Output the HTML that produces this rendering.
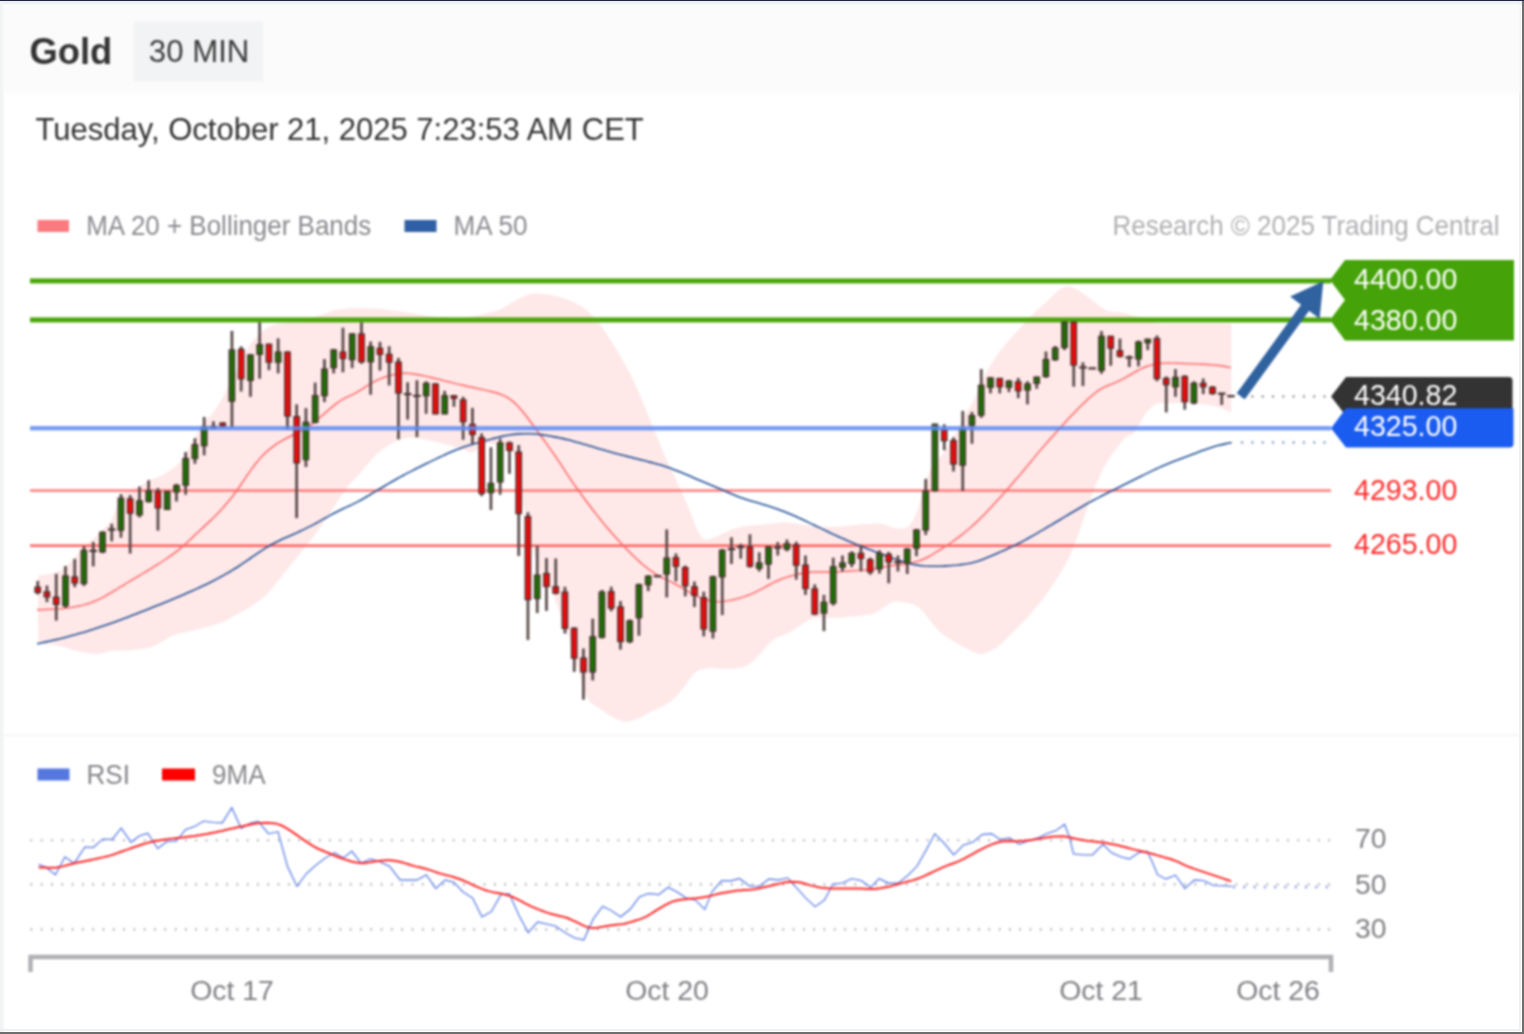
<!DOCTYPE html>
<html><head><meta charset="utf-8"><title>Gold 30 MIN</title>
<style>
html,body{margin:0;padding:0;background:#fff;}
body{width:1524px;height:1034px;position:relative;overflow:hidden;font-family:"Liberation Sans",sans-serif;}
.b{position:absolute;}
</style></head><body>
<div class="b" style="left:0;top:0;width:1524px;height:1px;background:#23243f"></div>
<div class="b" style="left:0;top:1px;width:1524px;height:1.5px;background:#e9eef8"></div>
<div class="b" style="left:0;top:2.5px;width:1524px;height:2px;background:#eef0f2"></div>
<div class="b" style="left:0;top:1px;width:2px;height:1033px;background:#f2f3f3"></div>
<div class="b" style="left:2px;top:3px;width:2px;height:1031px;background:#f4f6f8"></div>
<div class="b" style="left:1519px;top:3px;width:2px;height:1028px;background:#eef1f4"></div>
<div class="b" style="left:0;top:1029px;width:1521px;height:2px;background:#eef1f4"></div>
<div class="b" style="left:1522px;top:1px;width:2px;height:1033px;background:#6e6e6e"></div>
<div class="b" style="left:0;top:1032px;width:1524px;height:2px;background:#6e6e6e"></div>
<svg width="1524" height="1034" viewBox="0 0 1524 1034" style="position:absolute;left:0;top:0;filter:blur(0.85px);font-family:'Liberation Sans',sans-serif"><rect x="4" y="4" width="1516" height="89.5" fill="#fbfbfc"/><rect x="134" y="21.5" width="129" height="60" fill="#f2f3f5"/><text x="29.4" y="64.3" font-size="36.4" font-weight="bold" fill="#333">Gold</text><text x="148.8" y="61.8" font-size="31.2" fill="#3a3a3a">30 MIN</text><text x="35.5" y="139.8" font-size="32" textLength="608.3" lengthAdjust="spacingAndGlyphs" fill="#333">Tuesday, October 21, 2025 7:23:53 AM CET</text><rect x="37.5" y="220" width="31.5" height="12" fill="#fb7a80"/><text x="86.2" y="235" font-size="28" textLength="285" lengthAdjust="spacingAndGlyphs" fill="#8a8a8f">MA 20 + Bollinger Bands</text><rect x="404.5" y="220" width="32" height="12" fill="#2f5fa5"/><text x="453.5" y="235" font-size="28" textLength="74" lengthAdjust="spacingAndGlyphs" fill="#8a8a8f">MA 50</text><text x="1112.5" y="235" font-size="28" fill="#b0b0b3" textLength="387" lengthAdjust="spacingAndGlyphs">Research © 2025 Trading Central</text><polygon points="37.8,575.7 40.8,575.2 43.8,574.7 46.8,574.2 49.8,573.7 52.8,573.2 55.8,572.4 58.8,571.3 61.8,569.7 64.8,567.5 67.8,564.8 70.8,561.7 73.8,558.4 76.8,554.8 79.8,551.0 82.8,547.6 85.8,544.8 88.8,542.4 91.8,540.1 94.8,537.4 97.8,534.4 100.8,531.3 103.8,528.6 106.8,526.0 109.8,522.7 112.8,517.4 115.8,509.7 118.8,501.5 121.8,495.4 124.8,492.1 127.8,490.5 130.8,489.4 133.8,488.4 136.8,487.3 139.8,485.9 142.8,484.1 145.8,482.2 148.8,480.5 151.8,479.3 154.8,478.3 157.8,477.2 160.8,475.8 163.8,474.3 166.8,472.5 169.8,470.6 172.8,468.6 175.8,466.3 178.8,463.3 181.8,459.4 184.8,455.0 187.8,450.1 190.8,445.0 193.8,439.6 196.8,434.1 199.8,428.5 202.8,423.7 205.8,420.1 208.8,417.2 211.8,414.0 214.8,410.2 217.8,405.9 220.8,401.1 223.8,395.7 226.8,389.8 229.8,383.9 232.8,377.9 235.8,371.9 238.8,365.9 241.8,359.9 244.8,354.0 247.8,348.5 250.8,343.8 253.8,340.0 256.8,336.8 259.8,333.8 262.8,331.0 265.8,328.5 268.8,326.8 271.8,325.7 274.8,324.8 277.8,324.1 280.8,323.4 283.8,322.9 286.8,322.7 289.8,322.6 292.8,322.6 295.8,322.6 298.8,322.4 301.8,321.9 304.8,321.0 307.8,320.0 310.8,318.9 313.8,317.7 316.8,316.6 319.8,315.5 322.8,314.4 325.8,313.2 328.8,312.1 331.8,311.1 334.8,310.2 337.8,309.7 340.8,309.3 343.8,309.1 346.8,308.8 349.8,308.6 352.8,308.3 355.8,308.1 358.8,307.9 361.8,307.9 364.8,308.0 367.8,308.2 370.8,308.4 373.8,308.5 376.8,308.7 379.8,309.0 382.8,309.3 385.8,309.7 388.8,310.1 391.8,310.4 394.8,310.8 397.8,311.2 400.8,311.6 403.8,312.0 406.8,312.4 409.8,312.8 412.8,313.3 415.8,313.8 418.8,314.3 421.8,314.8 424.8,315.3 427.8,315.8 430.8,316.2 433.8,316.6 436.8,317.0 439.8,317.2 442.8,317.5 445.8,317.7 448.8,318.0 451.8,318.2 454.8,318.4 457.8,318.6 460.8,318.5 463.8,318.1 466.8,317.6 469.8,317.0 472.8,316.4 475.8,315.8 478.8,315.2 481.8,314.5 484.8,313.8 487.8,313.1 490.8,312.3 493.8,311.6 496.8,310.7 499.8,309.6 502.8,308.2 505.8,306.4 508.8,304.6 511.8,302.7 514.8,300.9 517.8,299.2 520.8,297.7 523.8,296.4 526.8,295.1 529.8,294.2 532.8,293.6 535.8,293.5 538.8,293.7 541.8,293.9 544.8,294.2 547.8,294.5 550.8,295.0 553.8,295.7 556.8,296.4 559.8,297.2 562.8,297.9 565.8,298.9 568.8,300.0 571.8,301.4 574.8,302.9 577.8,304.4 580.8,306.0 583.8,307.9 586.8,310.2 589.8,313.0 592.8,316.0 595.8,319.3 598.8,322.9 601.8,327.0 604.8,331.4 607.8,335.9 610.8,340.5 613.8,345.3 616.8,350.2 619.8,355.3 622.8,360.4 625.8,365.9 628.8,371.6 631.8,377.6 634.8,383.7 637.8,390.1 640.8,397.1 643.8,404.4 646.8,411.9 649.8,419.4 652.8,426.8 655.8,434.2 658.8,441.5 661.8,448.7 664.8,455.8 667.8,462.5 670.8,468.8 673.8,475.0 676.8,481.2 679.8,487.6 682.8,494.3 685.8,501.2 688.8,508.5 691.8,516.3 694.8,524.1 697.8,531.0 700.8,536.2 703.8,539.1 706.8,539.8 709.8,539.1 712.8,538.1 715.8,536.9 718.8,535.6 721.8,534.2 724.8,532.8 727.8,531.4 730.8,530.1 733.8,529.0 736.8,528.0 739.8,527.1 742.8,526.4 745.8,525.9 748.8,525.6 751.8,525.4 754.8,525.2 757.8,525.0 760.8,524.8 763.8,524.6 766.8,524.3 769.8,524.0 772.8,523.6 775.8,523.2 778.8,522.9 781.8,522.6 784.8,522.4 787.8,522.5 790.8,522.9 793.8,523.3 796.8,523.8 799.8,524.3 802.8,524.8 805.8,525.3 808.8,525.7 811.8,526.0 814.8,526.2 817.8,526.3 820.8,526.5 823.8,526.6 826.8,526.8 829.8,526.9 832.8,527.0 835.8,527.0 838.8,526.8 841.8,526.4 844.8,526.1 847.8,525.7 850.8,525.3 853.8,525.0 856.8,524.7 859.8,524.4 862.8,524.3 865.8,524.1 868.8,523.9 871.8,523.8 874.8,523.6 877.8,523.6 880.8,523.9 883.8,524.6 886.8,525.5 889.8,526.5 892.8,527.4 895.8,528.1 898.8,528.5 901.8,528.5 904.8,528.2 907.8,527.0 910.8,524.1 913.8,519.0 916.8,511.9 919.8,502.4 922.8,491.2 925.8,480.6 928.8,472.4 931.8,466.8 934.8,463.0 937.8,460.0 940.8,456.6 943.8,452.5 946.8,447.9 949.8,443.1 952.8,438.1 955.8,432.7 958.8,426.7 961.8,420.6 964.8,415.0 967.8,410.1 970.8,405.5 973.8,400.2 976.8,393.9 979.8,387.1 982.8,380.3 985.8,374.0 988.8,368.3 991.8,363.2 994.8,358.5 997.8,354.3 1000.8,350.3 1003.8,346.5 1006.8,342.8 1009.8,339.3 1012.8,335.9 1015.8,332.5 1018.8,329.2 1021.8,325.9 1024.8,322.7 1027.8,319.5 1030.8,316.3 1033.8,313.2 1036.8,310.4 1039.8,307.7 1042.8,305.1 1045.8,302.4 1048.8,299.5 1051.8,296.6 1054.8,293.7 1057.8,291.0 1060.8,288.7 1063.8,287.2 1066.8,286.6 1069.8,286.7 1072.8,287.6 1075.8,289.0 1078.8,290.7 1081.8,292.6 1084.8,294.7 1087.8,296.9 1090.8,299.2 1093.8,301.7 1096.8,304.0 1099.8,306.2 1102.8,308.2 1105.8,310.0 1108.8,311.2 1111.8,311.8 1114.8,312.0 1117.8,312.2 1120.8,312.5 1123.8,313.0 1126.8,313.7 1129.8,314.5 1132.8,315.4 1135.8,316.4 1138.8,317.5 1141.8,318.7 1144.8,319.8 1147.8,320.7 1150.8,321.5 1153.8,322.2 1156.8,322.9 1159.8,323.4 1162.8,323.6 1165.8,323.7 1168.8,323.7 1171.8,323.7 1174.8,323.7 1177.8,323.7 1180.8,323.7 1183.8,323.7 1186.8,323.7 1189.8,323.7 1192.8,323.7 1195.8,323.7 1198.8,323.7 1201.8,323.7 1204.8,323.7 1207.8,323.7 1210.8,323.7 1213.8,323.7 1216.8,323.7 1219.8,323.7 1222.8,323.7 1225.8,323.7 1228.8,323.7 1231.3,323.7 1231.3,412.4 1229.2,411.4 1226.2,410.2 1223.2,409.1 1220.2,407.9 1217.2,407.0 1214.2,406.2 1211.2,405.6 1208.2,405.0 1205.2,404.5 1202.2,404.1 1199.2,403.7 1196.2,403.4 1193.2,403.2 1190.2,403.0 1187.2,402.9 1184.2,402.9 1181.2,402.9 1178.2,402.9 1175.2,402.9 1172.2,402.9 1169.2,402.9 1166.2,402.9 1163.2,402.9 1160.2,403.1 1157.2,403.8 1154.2,405.2 1151.2,407.4 1148.2,410.3 1145.2,414.1 1142.2,418.7 1139.2,424.2 1136.2,429.8 1133.2,433.5 1130.2,434.9 1127.2,436.2 1124.2,438.9 1121.2,442.4 1118.2,446.1 1115.2,450.0 1112.2,454.1 1109.2,458.4 1106.2,463.3 1103.2,468.8 1100.2,475.0 1097.2,481.8 1094.2,489.1 1091.2,497.0 1088.2,505.4 1085.2,514.2 1082.2,523.2 1079.2,532.1 1076.2,540.5 1073.2,548.0 1070.2,554.7 1067.2,560.7 1064.2,566.5 1061.2,571.8 1058.2,576.6 1055.2,581.2 1052.2,585.8 1049.2,590.2 1046.2,594.5 1043.2,598.5 1040.2,602.3 1037.2,606.0 1034.2,609.7 1031.2,613.3 1028.2,616.6 1025.2,619.8 1022.2,622.8 1019.2,625.8 1016.2,628.8 1013.2,631.8 1010.2,634.8 1007.2,637.8 1004.2,640.8 1001.2,643.7 998.2,646.3 995.2,648.4 992.2,650.1 989.2,651.7 986.2,653.1 983.2,654.1 980.2,654.2 977.2,653.5 974.2,652.2 971.2,650.7 968.2,649.2 965.2,647.7 962.2,646.2 959.2,644.5 956.2,642.8 953.2,641.0 950.2,639.2 947.2,637.3 944.2,635.4 941.2,633.1 938.2,630.3 935.2,627.0 932.2,623.5 929.2,619.6 926.2,615.4 923.2,611.4 920.2,608.4 917.2,606.3 914.2,604.8 911.2,603.7 908.2,603.0 905.2,602.5 902.2,602.0 899.2,601.6 896.2,601.4 893.2,601.8 890.2,603.1 887.2,604.9 884.2,607.0 881.2,609.2 878.2,611.3 875.2,613.0 872.2,614.1 869.2,614.7 866.2,615.1 863.2,615.6 860.2,616.0 857.2,616.3 854.2,616.6 851.2,616.8 848.2,617.0 845.2,617.2 842.2,617.4 839.2,617.6 836.2,617.7 833.2,617.8 830.2,617.8 827.2,617.8 824.2,617.8 821.2,617.8 818.2,617.8 815.2,618.0 812.2,618.6 809.2,619.8 806.2,621.5 803.2,623.4 800.2,625.3 797.2,627.4 794.2,629.4 791.2,631.4 788.2,633.0 785.2,634.3 782.2,635.4 779.2,636.4 776.2,637.9 773.2,640.0 770.2,642.6 767.2,645.6 764.2,648.9 761.2,652.4 758.2,656.0 755.2,659.2 752.2,662.0 749.2,664.1 746.2,665.9 743.2,667.1 740.2,667.8 737.2,668.2 734.2,668.5 731.2,668.7 728.2,668.8 725.2,668.8 722.2,668.6 719.2,668.5 716.2,668.3 713.2,668.1 710.2,668.0 707.2,668.2 704.2,668.7 701.2,669.5 698.2,670.6 695.2,672.4 692.2,675.4 689.2,679.5 686.2,683.9 683.2,688.0 680.2,691.8 677.2,695.3 674.2,698.3 671.2,700.9 668.2,703.2 665.2,705.1 662.2,706.7 659.2,708.0 656.2,709.3 653.2,710.6 650.2,712.1 647.2,713.8 644.2,715.5 641.2,717.2 638.2,718.6 635.2,719.8 632.2,720.7 629.2,721.5 626.2,721.8 623.2,721.5 620.2,720.5 617.2,719.3 614.2,718.0 611.2,716.3 608.2,714.4 605.2,712.4 602.2,710.3 599.2,708.3 596.2,706.4 593.2,704.5 590.2,701.9 587.2,697.3 584.2,689.6 581.2,680.0 578.2,670.0 575.2,659.9 572.2,649.2 569.2,638.6 566.2,629.4 563.2,621.6 560.2,614.1 557.2,605.8 554.2,597.2 551.2,589.8 548.2,584.5 545.2,580.5 542.2,576.2 539.2,570.3 536.2,561.8 533.2,550.4 530.2,536.6 527.2,522.9 524.2,509.4 521.2,492.7 518.2,473.8 515.2,459.0 512.2,451.0 509.2,447.5 506.2,446.2 503.2,445.6 500.2,445.1 497.2,444.7 494.2,444.4 491.2,444.1 488.2,443.8 485.2,443.8 482.2,444.7 479.2,447.1 476.2,450.1 473.2,452.1 470.2,452.2 467.2,451.2 464.2,449.8 461.2,448.6 458.2,447.6 455.2,446.8 452.2,446.0 449.2,445.3 446.2,444.5 443.2,443.8 440.2,443.0 437.2,442.3 434.2,441.6 431.2,440.9 428.2,440.2 425.2,439.5 422.2,438.9 419.2,438.4 416.2,438.0 413.2,437.6 410.2,437.5 407.2,437.8 404.2,438.4 401.2,439.1 398.2,440.1 395.2,441.5 392.2,443.2 389.2,445.0 386.2,446.9 383.2,448.9 380.2,451.2 377.2,453.8 374.2,456.8 371.2,459.9 368.2,463.2 365.2,466.8 362.2,470.6 359.2,474.4 356.2,477.6 353.2,480.5 350.2,483.5 347.2,487.3 344.2,491.6 341.2,496.1 338.2,500.6 335.2,505.1 332.2,509.6 329.2,514.1 326.2,518.6 323.2,523.1 320.2,527.5 317.2,531.7 314.2,535.6 311.2,539.4 308.2,543.2 305.2,546.9 302.2,550.7 299.2,554.4 296.2,558.2 293.2,561.9 290.2,565.6 287.2,569.4 284.2,573.1 281.2,576.9 278.2,580.6 275.2,584.4 272.2,588.1 269.2,591.6 266.2,594.8 263.2,597.5 260.2,599.9 257.2,602.1 254.2,604.3 251.2,606.4 248.2,608.3 245.2,610.0 242.2,611.5 239.2,613.0 236.2,614.6 233.2,616.2 230.2,618.1 227.2,619.9 224.2,621.5 221.2,622.7 218.2,623.6 215.2,624.5 212.2,625.4 209.2,626.2 206.2,627.1 203.2,627.9 200.2,628.8 197.2,629.6 194.2,630.3 191.2,631.0 188.2,631.6 185.2,632.2 182.2,632.8 179.2,633.5 176.2,634.3 173.2,635.3 170.2,636.8 167.2,638.5 164.2,640.3 161.2,642.1 158.2,643.9 155.2,645.5 152.2,646.8 149.2,647.6 146.2,648.2 143.2,648.6 140.2,649.1 137.2,649.5 134.2,649.9 131.2,650.2 128.2,650.4 125.2,650.4 122.2,650.4 119.2,650.4 116.2,650.4 113.2,650.5 110.2,650.9 107.2,651.7 104.2,652.7 101.2,653.6 98.2,654.0 95.2,653.9 92.2,653.6 89.2,653.2 86.2,652.7 83.2,652.2 80.2,651.7 77.2,651.1 74.2,650.3 71.2,649.4 68.2,648.5 65.2,647.6 62.2,646.7 59.2,645.9 56.2,645.3 53.2,644.8 50.2,644.5 47.2,644.2 44.2,643.9 41.2,643.7 38.2,643.4" fill="#fee8e8"/><rect x="30" y="489.4" width="1301" height="2.3" fill="#ff7272"/><rect x="30" y="544.5" width="1301" height="2.3" fill="#ff5656"/><polyline points="37.0,609.8 40.0,609.7 43.0,609.6 46.0,609.5 49.0,609.4 52.0,609.2 55.0,609.1 58.0,608.9 61.0,608.7 64.0,608.4 67.0,608.0 70.0,607.6 73.0,607.2 76.0,606.6 79.0,606.0 82.0,605.4 85.0,604.6 88.0,603.7 91.0,602.6 94.0,601.5 97.0,600.2 100.0,598.8 103.0,597.3 106.0,595.7 109.0,593.9 112.0,592.2 115.0,590.3 118.0,588.5 121.0,586.7 124.0,584.8 127.0,583.0 130.0,581.2 133.0,579.4 136.0,577.6 139.0,575.8 142.0,574.0 145.0,572.2 148.0,570.4 151.0,568.6 154.0,566.7 157.0,564.9 160.0,563.0 163.0,561.0 166.0,559.0 169.0,556.9 172.0,554.8 175.0,552.6 178.0,550.3 181.0,547.9 184.0,545.3 187.0,542.5 190.0,539.7 193.0,536.9 196.0,534.0 199.0,531.2 202.0,528.4 205.0,525.6 208.0,522.9 211.0,520.1 214.0,517.2 217.0,514.2 220.0,511.0 223.0,507.8 226.0,504.3 229.0,500.8 232.0,497.0 235.0,493.0 238.0,488.8 241.0,484.5 244.0,480.1 247.0,475.7 250.0,471.4 253.0,467.2 256.0,463.3 259.0,459.6 262.0,456.3 265.0,453.3 268.0,450.6 271.0,448.1 274.0,445.8 277.0,443.7 280.0,441.9 283.0,440.1 286.0,438.5 289.0,437.0 292.0,435.5 295.0,433.9 298.0,432.4 301.0,430.8 304.0,429.1 307.0,427.3 310.0,425.3 313.0,423.1 316.0,420.8 319.0,418.3 322.0,415.7 325.0,413.1 328.0,410.5 331.0,407.9 334.0,405.4 337.0,403.1 340.0,401.0 343.0,399.1 346.0,397.6 349.0,396.2 352.0,394.9 355.0,393.4 358.0,391.7 361.0,389.9 364.0,387.9 367.0,385.9 370.0,384.0 373.0,382.3 376.0,380.7 379.0,379.3 382.0,378.1 385.0,377.0 388.0,376.1 391.0,375.3 394.0,374.6 397.0,374.0 400.0,373.5 403.0,373.3 406.0,373.3 409.0,373.4 412.0,373.8 415.0,374.2 418.0,374.7 421.0,375.3 424.0,375.9 427.0,376.6 430.0,377.3 433.0,378.0 436.0,378.7 439.0,379.4 442.0,380.2 445.0,380.9 448.0,381.7 451.0,382.4 454.0,383.1 457.0,383.9 460.0,384.6 463.0,385.3 466.0,386.0 469.0,386.7 472.0,387.3 475.0,388.0 478.0,388.6 481.0,389.3 484.0,389.9 487.0,390.6 490.0,391.3 493.0,392.0 496.0,392.8 499.0,393.8 502.0,394.9 505.0,396.2 508.0,397.9 511.0,399.9 514.0,402.4 517.0,405.2 520.0,408.5 523.0,412.0 526.0,415.8 529.0,419.7 532.0,423.8 535.0,427.9 538.0,432.1 541.0,436.2 544.0,440.3 547.0,444.4 550.0,448.6 553.0,452.8 556.0,457.1 559.0,461.6 562.0,466.2 565.0,470.9 568.0,475.4 571.0,479.9 574.0,484.3 577.0,488.5 580.0,492.6 583.0,496.7 586.0,500.7 589.0,504.7 592.0,508.7 595.0,512.6 598.0,516.4 601.0,520.2 604.0,523.9 607.0,527.5 610.0,531.0 613.0,534.4 616.0,537.8 619.0,541.1 622.0,544.3 625.0,547.5 628.0,550.5 631.0,553.5 634.0,556.5 637.0,559.3 640.0,562.1 643.0,564.7 646.0,567.2 649.0,569.5 652.0,571.7 655.0,573.7 658.0,575.4 661.0,577.0 664.0,578.4 667.0,579.9 670.0,581.4 673.0,582.9 676.0,584.5 679.0,586.2 682.0,587.9 685.0,589.6 688.0,591.4 691.0,593.1 694.0,594.7 697.0,596.2 700.0,597.6 703.0,598.8 706.0,599.8 709.0,600.5 712.0,601.1 715.0,601.5 718.0,601.6 721.0,601.6 724.0,601.3 727.0,600.9 730.0,600.4 733.0,599.8 736.0,599.1 739.0,598.3 742.0,597.4 745.0,596.4 748.0,595.3 751.0,594.1 754.0,592.8 757.0,591.3 760.0,589.8 763.0,588.3 766.0,586.6 769.0,585.0 772.0,583.4 775.0,581.9 778.0,580.5 781.0,579.2 784.0,578.1 787.0,577.1 790.0,576.2 793.0,575.4 796.0,574.7 799.0,574.0 802.0,573.3 805.0,572.8 808.0,572.4 811.0,572.2 814.0,572.0 817.0,572.0 820.0,571.9 823.0,571.9 826.0,571.9 829.0,571.9 832.0,571.8 835.0,571.8 838.0,571.7 841.0,571.5 844.0,571.4 847.0,571.2 850.0,571.0 853.0,570.8 856.0,570.6 859.0,570.4 862.0,570.2 865.0,570.0 868.0,569.7 871.0,569.3 874.0,568.8 877.0,568.3 880.0,567.7 883.0,567.1 886.0,566.5 889.0,566.0 892.0,565.5 895.0,565.2 898.0,564.8 901.0,564.5 904.0,564.2 907.0,563.7 910.0,563.2 913.0,562.6 916.0,561.8 919.0,560.9 922.0,559.8 925.0,558.5 928.0,557.0 931.0,555.3 934.0,553.5 937.0,551.7 940.0,549.8 943.0,547.9 946.0,546.0 949.0,544.0 952.0,542.0 955.0,539.9 958.0,537.7 961.0,535.4 964.0,533.0 967.0,530.5 970.0,528.0 973.0,525.3 976.0,522.6 979.0,519.7 982.0,516.7 985.0,513.7 988.0,510.6 991.0,507.4 994.0,504.1 997.0,500.8 1000.0,497.5 1003.0,494.2 1006.0,490.8 1009.0,487.4 1012.0,484.0 1015.0,480.6 1018.0,477.1 1021.0,473.6 1024.0,470.0 1027.0,466.4 1030.0,462.7 1033.0,459.1 1036.0,455.4 1039.0,451.9 1042.0,448.4 1045.0,444.9 1048.0,441.5 1051.0,438.1 1054.0,434.7 1057.0,431.4 1060.0,428.0 1063.0,424.7 1066.0,421.4 1069.0,418.1 1072.0,415.0 1075.0,411.9 1078.0,408.8 1081.0,405.8 1084.0,402.9 1087.0,400.1 1090.0,397.3 1093.0,394.7 1096.0,392.3 1099.0,390.2 1102.0,388.3 1105.0,386.8 1108.0,385.5 1111.0,384.3 1114.0,383.1 1117.0,381.8 1120.0,380.4 1123.0,378.9 1126.0,377.3 1129.0,375.5 1132.0,373.8 1135.0,372.0 1138.0,370.4 1141.0,368.8 1144.0,367.5 1147.0,366.3 1150.0,365.4 1153.0,364.6 1156.0,364.0 1159.0,363.6 1162.0,363.3 1165.0,363.1 1168.0,363.0 1171.0,363.1 1174.0,363.1 1177.0,363.2 1180.0,363.4 1183.0,363.5 1186.0,363.6 1189.0,363.7 1192.0,363.9 1195.0,364.0 1198.0,364.1 1201.0,364.2 1204.0,364.3 1207.0,364.5 1210.0,364.7 1213.0,364.9 1216.0,365.2 1219.0,365.5 1222.0,366.0 1225.0,366.5 1228.0,367.1 1230.9,367.7" fill="none" stroke="#ff6262" stroke-width="1.45"/><polyline points="37.0,643.8 40.0,643.2 43.0,642.5 46.0,641.9 49.0,641.2 52.0,640.5 55.0,639.9 58.0,639.2 61.0,638.5 64.0,637.7 67.0,636.9 70.0,636.1 73.0,635.3 76.0,634.5 79.0,633.6 82.0,632.8 85.0,631.9 88.0,630.9 91.0,630.0 94.0,629.1 97.0,628.1 100.0,627.1 103.0,626.1 106.0,625.1 109.0,624.0 112.0,623.0 115.0,621.9 118.0,620.8 121.0,619.7 124.0,618.6 127.0,617.4 130.0,616.3 133.0,615.1 136.0,614.0 139.0,612.8 142.0,611.6 145.0,610.4 148.0,609.2 151.0,608.0 154.0,606.8 157.0,605.6 160.0,604.4 163.0,603.2 166.0,602.0 169.0,600.8 172.0,599.5 175.0,598.3 178.0,597.0 181.0,595.7 184.0,594.4 187.0,593.1 190.0,591.8 193.0,590.5 196.0,589.1 199.0,587.7 202.0,586.3 205.0,584.9 208.0,583.5 211.0,582.0 214.0,580.5 217.0,578.9 220.0,577.3 223.0,575.6 226.0,573.9 229.0,572.2 232.0,570.4 235.0,568.5 238.0,566.7 241.0,564.7 244.0,562.7 247.0,560.6 250.0,558.5 253.0,556.4 256.0,554.3 259.0,552.3 262.0,550.3 265.0,548.4 268.0,546.6 271.0,544.8 274.0,543.2 277.0,541.7 280.0,540.2 283.0,538.8 286.0,537.5 289.0,536.2 292.0,534.9 295.0,533.6 298.0,532.2 301.0,530.8 304.0,529.4 307.0,527.9 310.0,526.4 313.0,524.9 316.0,523.3 319.0,521.6 322.0,519.9 325.0,518.2 328.0,516.6 331.0,514.9 334.0,513.2 337.0,511.7 340.0,510.2 343.0,508.8 346.0,507.4 349.0,506.0 352.0,504.6 355.0,503.1 358.0,501.6 361.0,500.0 364.0,498.3 367.0,496.5 370.0,494.8 373.0,492.9 376.0,491.1 379.0,489.3 382.0,487.5 385.0,485.7 388.0,483.9 391.0,482.2 394.0,480.5 397.0,478.8 400.0,477.1 403.0,475.5 406.0,473.9 409.0,472.4 412.0,470.9 415.0,469.3 418.0,467.8 421.0,466.3 424.0,464.8 427.0,463.3 430.0,461.9 433.0,460.4 436.0,458.9 439.0,457.5 442.0,456.1 445.0,454.7 448.0,453.3 451.0,452.0 454.0,450.7 457.0,449.5 460.0,448.4 463.0,447.3 466.0,446.3 469.0,445.3 472.0,444.5 475.0,443.6 478.0,442.8 481.0,441.9 484.0,441.1 487.0,440.3 490.0,439.5 493.0,438.6 496.0,437.9 499.0,437.1 502.0,436.4 505.0,435.8 508.0,435.3 511.0,434.8 514.0,434.4 517.0,434.1 520.0,433.9 523.0,433.7 526.0,433.7 529.0,433.7 532.0,433.8 535.0,434.0 538.0,434.3 541.0,434.6 544.0,435.1 547.0,435.5 550.0,436.0 553.0,436.6 556.0,437.1 559.0,437.7 562.0,438.4 565.0,439.1 568.0,439.8 571.0,440.6 574.0,441.4 577.0,442.3 580.0,443.1 583.0,444.0 586.0,444.8 589.0,445.7 592.0,446.6 595.0,447.5 598.0,448.4 601.0,449.3 604.0,450.1 607.0,451.0 610.0,451.8 613.0,452.7 616.0,453.5 619.0,454.3 622.0,455.0 625.0,455.8 628.0,456.6 631.0,457.3 634.0,458.1 637.0,458.8 640.0,459.6 643.0,460.3 646.0,461.1 649.0,461.9 652.0,462.6 655.0,463.4 658.0,464.3 661.0,465.1 664.0,466.1 667.0,467.1 670.0,468.1 673.0,469.2 676.0,470.4 679.0,471.6 682.0,472.8 685.0,474.1 688.0,475.3 691.0,476.6 694.0,477.9 697.0,479.2 700.0,480.5 703.0,481.8 706.0,483.0 709.0,484.3 712.0,485.5 715.0,486.8 718.0,488.1 721.0,489.3 724.0,490.6 727.0,491.9 730.0,493.2 733.0,494.5 736.0,495.7 739.0,496.9 742.0,498.0 745.0,499.0 748.0,500.0 751.0,500.9 754.0,501.8 757.0,502.6 760.0,503.5 763.0,504.4 766.0,505.3 769.0,506.3 772.0,507.2 775.0,508.3 778.0,509.3 781.0,510.4 784.0,511.6 787.0,512.8 790.0,514.0 793.0,515.3 796.0,516.6 799.0,518.0 802.0,519.3 805.0,520.7 808.0,522.1 811.0,523.6 814.0,525.0 817.0,526.5 820.0,527.9 823.0,529.4 826.0,530.8 829.0,532.3 832.0,533.7 835.0,535.1 838.0,536.4 841.0,537.8 844.0,539.1 847.0,540.4 850.0,541.7 853.0,542.9 856.0,544.2 859.0,545.4 862.0,546.6 865.0,547.8 868.0,549.0 871.0,550.1 874.0,551.3 877.0,552.4 880.0,553.5 883.0,554.7 886.0,555.8 889.0,556.9 892.0,558.0 895.0,559.1 898.0,560.1 901.0,561.1 904.0,562.0 907.0,562.8 910.0,563.6 913.0,564.3 916.0,564.9 919.0,565.4 922.0,565.7 925.0,566.0 928.0,566.2 931.0,566.3 934.0,566.3 937.0,566.3 940.0,566.2 943.0,566.1 946.0,565.9 949.0,565.7 952.0,565.5 955.0,565.3 958.0,565.0 961.0,564.6 964.0,564.2 967.0,563.8 970.0,563.2 973.0,562.5 976.0,561.7 979.0,560.8 982.0,559.7 985.0,558.6 988.0,557.3 991.0,556.0 994.0,554.7 997.0,553.4 1000.0,552.1 1003.0,550.7 1006.0,549.4 1009.0,548.0 1012.0,546.6 1015.0,545.2 1018.0,543.7 1021.0,542.2 1024.0,540.6 1027.0,539.0 1030.0,537.3 1033.0,535.6 1036.0,533.9 1039.0,532.1 1042.0,530.4 1045.0,528.6 1048.0,526.8 1051.0,525.1 1054.0,523.3 1057.0,521.5 1060.0,519.7 1063.0,517.9 1066.0,516.1 1069.0,514.3 1072.0,512.5 1075.0,510.7 1078.0,509.0 1081.0,507.2 1084.0,505.5 1087.0,503.8 1090.0,502.1 1093.0,500.5 1096.0,498.9 1099.0,497.4 1102.0,495.8 1105.0,494.3 1108.0,492.8 1111.0,491.3 1114.0,489.8 1117.0,488.3 1120.0,486.8 1123.0,485.3 1126.0,483.8 1129.0,482.3 1132.0,480.8 1135.0,479.3 1138.0,477.8 1141.0,476.3 1144.0,474.9 1147.0,473.4 1150.0,471.9 1153.0,470.4 1156.0,469.0 1159.0,467.6 1162.0,466.2 1165.0,464.9 1168.0,463.7 1171.0,462.5 1174.0,461.3 1177.0,460.2 1180.0,459.0 1183.0,457.9 1186.0,456.8 1189.0,455.7 1192.0,454.5 1195.0,453.4 1198.0,452.3 1201.0,451.1 1204.0,450.0 1207.0,449.0 1210.0,448.0 1213.0,447.0 1216.0,446.1 1219.0,445.3 1222.0,444.6 1225.0,443.9 1228.0,443.2 1231.0,442.7 1231.3,442.1" fill="none" stroke="#204f96" stroke-width="1.6"/><rect x="30" y="278.4" width="1301" height="5" fill="#4aa508"/><rect x="30" y="317.4" width="1301" height="5" fill="#4aa508"/><rect x="36.4" y="580.9" width="2.7" height="13.6" fill="#584848"/><rect x="35.0" y="587.2" width="5.4" height="5.1" fill="#ee0a0a" stroke="#4a3030" stroke-width="1.3"/><rect x="45.6" y="585.5" width="2.7" height="16.6" fill="#584848"/><rect x="44.2" y="591.9" width="5.4" height="4.9" fill="#ee0a0a" stroke="#4a3030" stroke-width="1.3"/><rect x="54.9" y="573.8" width="2.7" height="46.8" fill="#584848"/><rect x="53.5" y="597.2" width="5.4" height="7.1" fill="#ee0a0a" stroke="#4a3030" stroke-width="1.3"/><rect x="64.1" y="566.0" width="2.7" height="41.9" fill="#584848"/><rect x="62.8" y="576.0" width="5.4" height="29.7" fill="#1e6e06" stroke="#4a3030" stroke-width="1.3"/><rect x="73.4" y="558.9" width="2.7" height="28.3" fill="#584848"/><rect x="72.0" y="577.0" width="5.4" height="6.0" fill="#ee0a0a" stroke="#4a3030" stroke-width="1.3"/><rect x="82.6" y="546.2" width="2.7" height="39.8" fill="#584848"/><rect x="81.2" y="550.4" width="5.4" height="33.0" fill="#1e6e06" stroke="#4a3030" stroke-width="1.3"/><rect x="91.9" y="541.9" width="2.7" height="24.5" fill="#584848"/><rect x="89.4" y="549.8" width="7.6" height="2.2" fill="#4a3535"/><rect x="101.1" y="531.3" width="2.7" height="21.9" fill="#584848"/><rect x="99.8" y="532.3" width="5.4" height="19.6" fill="#1e6e06" stroke="#4a3030" stroke-width="1.3"/><rect x="110.4" y="523.8" width="2.7" height="17.5" fill="#584848"/><rect x="107.9" y="528.4" width="7.6" height="2.2" fill="#4a3535"/><rect x="119.6" y="494.0" width="2.7" height="43.7" fill="#584848"/><rect x="118.2" y="498.3" width="5.4" height="31.9" fill="#1e6e06" stroke="#4a3030" stroke-width="1.3"/><rect x="128.8" y="495.1" width="2.7" height="58.5" fill="#584848"/><rect x="127.5" y="498.9" width="5.4" height="14.3" fill="#ee0a0a" stroke="#4a3030" stroke-width="1.3"/><rect x="138.1" y="486.6" width="2.7" height="30.8" fill="#584848"/><rect x="136.8" y="500.9" width="5.4" height="14.0" fill="#1e6e06" stroke="#4a3030" stroke-width="1.3"/><rect x="147.3" y="480.2" width="2.7" height="22.4" fill="#584848"/><rect x="146.0" y="490.9" width="5.4" height="10.6" fill="#1e6e06" stroke="#4a3030" stroke-width="1.3"/><rect x="156.6" y="488.1" width="2.7" height="42.5" fill="#584848"/><rect x="155.2" y="491.5" width="5.4" height="16.4" fill="#ee0a0a" stroke="#4a3030" stroke-width="1.3"/><rect x="165.8" y="490.9" width="2.7" height="19.1" fill="#584848"/><rect x="164.5" y="491.5" width="5.4" height="17.9" fill="#1e6e06" stroke="#4a3030" stroke-width="1.3"/><rect x="175.1" y="483.8" width="2.7" height="17.7" fill="#584848"/><rect x="173.8" y="485.5" width="5.4" height="6.4" fill="#1e6e06" stroke="#4a3030" stroke-width="1.3"/><rect x="184.3" y="452.1" width="2.7" height="42.6" fill="#584848"/><rect x="183.0" y="458.5" width="5.4" height="26.6" fill="#1e6e06" stroke="#4a3030" stroke-width="1.3"/><rect x="193.6" y="438.3" width="2.7" height="25.5" fill="#584848"/><rect x="192.2" y="444.7" width="5.4" height="13.8" fill="#1e6e06" stroke="#4a3030" stroke-width="1.3"/><rect x="202.8" y="417.0" width="2.7" height="38.3" fill="#584848"/><rect x="201.5" y="426.6" width="5.4" height="19.1" fill="#1e6e06" stroke="#4a3030" stroke-width="1.3"/><rect x="212.1" y="421.3" width="2.7" height="8.5" fill="#584848"/><rect x="209.6" y="425.8" width="7.6" height="2.2" fill="#4a3535"/><rect x="221.3" y="422.3" width="2.7" height="4.9" fill="#584848"/><rect x="220.0" y="423.0" width="5.4" height="3.0" fill="#ee0a0a" stroke="#4a3030" stroke-width="1.3"/><rect x="230.6" y="330.9" width="2.7" height="96.8" fill="#584848"/><rect x="229.2" y="350.0" width="5.4" height="51.1" fill="#1e6e06" stroke="#4a3030" stroke-width="1.3"/><rect x="239.8" y="346.4" width="2.7" height="45.1" fill="#584848"/><rect x="238.5" y="349.4" width="5.4" height="29.3" fill="#ee0a0a" stroke="#4a3030" stroke-width="1.3"/><rect x="249.1" y="354.3" width="2.7" height="42.5" fill="#584848"/><rect x="247.8" y="354.9" width="5.4" height="25.5" fill="#1e6e06" stroke="#4a3030" stroke-width="1.3"/><rect x="258.3" y="322.3" width="2.7" height="56.4" fill="#584848"/><rect x="257.0" y="344.7" width="5.4" height="9.6" fill="#1e6e06" stroke="#4a3030" stroke-width="1.3"/><rect x="267.6" y="343.6" width="2.7" height="26.6" fill="#584848"/><rect x="266.2" y="344.3" width="5.4" height="17.8" fill="#ee0a0a" stroke="#4a3030" stroke-width="1.3"/><rect x="276.8" y="338.3" width="2.7" height="35.1" fill="#584848"/><rect x="275.5" y="352.1" width="5.4" height="10.0" fill="#1e6e06" stroke="#4a3030" stroke-width="1.3"/><rect x="286.1" y="351.1" width="2.7" height="78.7" fill="#584848"/><rect x="284.8" y="352.1" width="5.4" height="63.9" fill="#ee0a0a" stroke="#4a3030" stroke-width="1.3"/><rect x="295.3" y="404.3" width="2.7" height="113.8" fill="#584848"/><rect x="294.0" y="416.6" width="5.4" height="46.2" fill="#ee0a0a" stroke="#4a3030" stroke-width="1.3"/><rect x="304.6" y="408.1" width="2.7" height="58.9" fill="#584848"/><rect x="303.2" y="422.3" width="5.4" height="37.3" fill="#1e6e06" stroke="#4a3030" stroke-width="1.3"/><rect x="313.8" y="382.6" width="2.7" height="40.8" fill="#584848"/><rect x="312.5" y="395.7" width="5.4" height="26.6" fill="#1e6e06" stroke="#4a3030" stroke-width="1.3"/><rect x="323.1" y="359.1" width="2.7" height="43.0" fill="#584848"/><rect x="321.8" y="369.1" width="5.4" height="26.6" fill="#1e6e06" stroke="#4a3030" stroke-width="1.3"/><rect x="332.3" y="348.9" width="2.7" height="24.5" fill="#584848"/><rect x="331.0" y="350.0" width="5.4" height="17.7" fill="#1e6e06" stroke="#4a3030" stroke-width="1.3"/><rect x="341.6" y="327.7" width="2.7" height="44.6" fill="#584848"/><rect x="340.2" y="352.1" width="5.4" height="6.4" fill="#ee0a0a" stroke="#4a3030" stroke-width="1.3"/><rect x="350.8" y="333.0" width="2.7" height="35.1" fill="#584848"/><rect x="349.5" y="334.0" width="5.4" height="25.6" fill="#1e6e06" stroke="#4a3030" stroke-width="1.3"/><rect x="360.1" y="322.3" width="2.7" height="41.5" fill="#584848"/><rect x="358.8" y="334.0" width="5.4" height="27.7" fill="#ee0a0a" stroke="#4a3030" stroke-width="1.3"/><rect x="369.3" y="341.5" width="2.7" height="53.2" fill="#584848"/><rect x="368.0" y="346.8" width="5.4" height="14.9" fill="#1e6e06" stroke="#4a3030" stroke-width="1.3"/><rect x="378.6" y="341.9" width="2.7" height="28.7" fill="#584848"/><rect x="377.2" y="348.3" width="5.4" height="6.0" fill="#ee0a0a" stroke="#4a3030" stroke-width="1.3"/><rect x="387.8" y="346.2" width="2.7" height="39.3" fill="#584848"/><rect x="386.5" y="354.3" width="5.4" height="7.8" fill="#ee0a0a" stroke="#4a3030" stroke-width="1.3"/><rect x="397.1" y="357.9" width="2.7" height="81.5" fill="#584848"/><rect x="395.8" y="362.1" width="5.4" height="30.9" fill="#ee0a0a" stroke="#4a3030" stroke-width="1.3"/><rect x="406.3" y="382.3" width="2.7" height="37.3" fill="#584848"/><rect x="403.9" y="393.0" width="7.6" height="2.2" fill="#4a3535"/><rect x="415.6" y="380.2" width="2.7" height="57.0" fill="#584848"/><rect x="413.1" y="394.8" width="7.6" height="2.2" fill="#4a3535"/><rect x="424.8" y="381.3" width="2.7" height="32.5" fill="#584848"/><rect x="423.5" y="383.4" width="5.4" height="12.3" fill="#1e6e06" stroke="#4a3030" stroke-width="1.3"/><rect x="434.1" y="383.0" width="2.7" height="31.3" fill="#584848"/><rect x="432.8" y="384.0" width="5.4" height="29.8" fill="#ee0a0a" stroke="#4a3030" stroke-width="1.3"/><rect x="443.3" y="390.9" width="2.7" height="23.4" fill="#584848"/><rect x="442.0" y="395.7" width="5.4" height="18.1" fill="#1e6e06" stroke="#4a3030" stroke-width="1.3"/><rect x="452.6" y="395.1" width="2.7" height="11.7" fill="#584848"/><rect x="451.2" y="395.7" width="5.4" height="2.6" fill="#ee0a0a" stroke="#4a3030" stroke-width="1.3"/><rect x="461.8" y="396.8" width="2.7" height="43.0" fill="#584848"/><rect x="460.5" y="400.0" width="5.4" height="21.7" fill="#ee0a0a" stroke="#4a3030" stroke-width="1.3"/><rect x="471.1" y="407.9" width="2.7" height="36.1" fill="#584848"/><rect x="469.8" y="424.5" width="5.4" height="10.0" fill="#ee0a0a" stroke="#4a3030" stroke-width="1.3"/><rect x="480.3" y="433.4" width="2.7" height="62.8" fill="#584848"/><rect x="479.0" y="437.7" width="5.4" height="55.7" fill="#ee0a0a" stroke="#4a3030" stroke-width="1.3"/><rect x="489.6" y="447.2" width="2.7" height="62.8" fill="#584848"/><rect x="488.2" y="483.4" width="5.4" height="9.2" fill="#1e6e06" stroke="#4a3030" stroke-width="1.3"/><rect x="498.8" y="438.7" width="2.7" height="56.0" fill="#584848"/><rect x="497.5" y="443.0" width="5.4" height="38.9" fill="#1e6e06" stroke="#4a3030" stroke-width="1.3"/><rect x="508.1" y="441.5" width="2.7" height="32.3" fill="#584848"/><rect x="506.8" y="443.0" width="5.4" height="7.4" fill="#ee0a0a" stroke="#4a3030" stroke-width="1.3"/><rect x="517.4" y="445.1" width="2.7" height="110.9" fill="#584848"/><rect x="516.0" y="452.1" width="5.4" height="61.5" fill="#ee0a0a" stroke="#4a3030" stroke-width="1.3"/><rect x="526.6" y="512.3" width="2.7" height="127.7" fill="#584848"/><rect x="525.2" y="516.6" width="5.4" height="83.0" fill="#ee0a0a" stroke="#4a3030" stroke-width="1.3"/><rect x="535.9" y="545.7" width="2.7" height="67.3" fill="#584848"/><rect x="534.5" y="575.1" width="5.4" height="23.4" fill="#1e6e06" stroke="#4a3030" stroke-width="1.3"/><rect x="545.1" y="558.1" width="2.7" height="52.8" fill="#584848"/><rect x="543.8" y="573.6" width="5.4" height="12.8" fill="#ee0a0a" stroke="#4a3030" stroke-width="1.3"/><rect x="554.4" y="558.5" width="2.7" height="35.8" fill="#584848"/><rect x="553.0" y="586.8" width="5.4" height="6.4" fill="#ee0a0a" stroke="#4a3030" stroke-width="1.3"/><rect x="563.6" y="586.8" width="2.7" height="46.8" fill="#584848"/><rect x="562.2" y="592.1" width="5.4" height="36.2" fill="#ee0a0a" stroke="#4a3030" stroke-width="1.3"/><rect x="572.9" y="627.2" width="2.7" height="44.7" fill="#584848"/><rect x="571.5" y="628.3" width="5.4" height="29.8" fill="#ee0a0a" stroke="#4a3030" stroke-width="1.3"/><rect x="582.1" y="648.5" width="2.7" height="51.1" fill="#584848"/><rect x="580.8" y="658.1" width="5.4" height="13.8" fill="#ee0a0a" stroke="#4a3030" stroke-width="1.3"/><rect x="591.4" y="618.7" width="2.7" height="61.7" fill="#584848"/><rect x="590.0" y="636.8" width="5.4" height="35.1" fill="#1e6e06" stroke="#4a3030" stroke-width="1.3"/><rect x="600.6" y="590.0" width="2.7" height="48.5" fill="#584848"/><rect x="599.2" y="592.1" width="5.4" height="45.1" fill="#1e6e06" stroke="#4a3030" stroke-width="1.3"/><rect x="609.9" y="586.8" width="2.7" height="24.5" fill="#584848"/><rect x="608.5" y="591.7" width="5.4" height="16.4" fill="#ee0a0a" stroke="#4a3030" stroke-width="1.3"/><rect x="619.1" y="601.1" width="2.7" height="48.5" fill="#584848"/><rect x="617.8" y="607.0" width="5.4" height="34.5" fill="#ee0a0a" stroke="#4a3030" stroke-width="1.3"/><rect x="628.4" y="619.4" width="2.7" height="23.8" fill="#584848"/><rect x="627.0" y="620.9" width="5.4" height="20.6" fill="#1e6e06" stroke="#4a3030" stroke-width="1.3"/><rect x="637.6" y="583.6" width="2.7" height="52.1" fill="#584848"/><rect x="636.2" y="584.7" width="5.4" height="33.0" fill="#1e6e06" stroke="#4a3030" stroke-width="1.3"/><rect x="646.9" y="575.1" width="2.7" height="16.0" fill="#584848"/><rect x="645.5" y="576.2" width="5.4" height="8.5" fill="#1e6e06" stroke="#4a3030" stroke-width="1.3"/><rect x="656.1" y="575.1" width="2.7" height="2.1" fill="#584848"/><rect x="653.7" y="575.1" width="7.6" height="2.2" fill="#4a3535"/><rect x="665.4" y="529.4" width="2.7" height="68.0" fill="#584848"/><rect x="664.0" y="558.1" width="5.4" height="15.9" fill="#1e6e06" stroke="#4a3030" stroke-width="1.3"/><rect x="674.6" y="553.4" width="2.7" height="28.1" fill="#584848"/><rect x="673.2" y="557.7" width="5.4" height="8.5" fill="#ee0a0a" stroke="#4a3030" stroke-width="1.3"/><rect x="683.9" y="565.5" width="2.7" height="30.9" fill="#584848"/><rect x="682.5" y="567.7" width="5.4" height="18.0" fill="#ee0a0a" stroke="#4a3030" stroke-width="1.3"/><rect x="693.1" y="581.5" width="2.7" height="25.5" fill="#584848"/><rect x="691.8" y="586.8" width="5.4" height="8.5" fill="#ee0a0a" stroke="#4a3030" stroke-width="1.3"/><rect x="702.4" y="591.7" width="2.7" height="44.7" fill="#584848"/><rect x="701.0" y="597.7" width="5.4" height="31.2" fill="#ee0a0a" stroke="#4a3030" stroke-width="1.3"/><rect x="711.6" y="575.7" width="2.7" height="62.8" fill="#584848"/><rect x="710.2" y="576.8" width="5.4" height="54.3" fill="#1e6e06" stroke="#4a3030" stroke-width="1.3"/><rect x="720.9" y="549.1" width="2.7" height="66.0" fill="#584848"/><rect x="719.5" y="550.2" width="5.4" height="26.6" fill="#1e6e06" stroke="#4a3030" stroke-width="1.3"/><rect x="730.1" y="537.4" width="2.7" height="26.6" fill="#584848"/><rect x="727.7" y="548.0" width="7.6" height="2.2" fill="#4a3535"/><rect x="739.4" y="543.8" width="2.7" height="14.9" fill="#584848"/><rect x="736.9" y="545.9" width="7.6" height="2.2" fill="#4a3535"/><rect x="748.6" y="534.3" width="2.7" height="33.4" fill="#584848"/><rect x="747.2" y="547.0" width="5.4" height="19.2" fill="#ee0a0a" stroke="#4a3030" stroke-width="1.3"/><rect x="757.9" y="552.3" width="2.7" height="19.2" fill="#584848"/><rect x="756.5" y="563.0" width="5.4" height="5.3" fill="#1e6e06" stroke="#4a3030" stroke-width="1.3"/><rect x="767.1" y="546.0" width="2.7" height="32.9" fill="#584848"/><rect x="765.8" y="547.0" width="5.4" height="17.0" fill="#1e6e06" stroke="#4a3030" stroke-width="1.3"/><rect x="776.4" y="542.1" width="2.7" height="13.4" fill="#584848"/><rect x="773.9" y="546.5" width="7.6" height="2.2" fill="#4a3535"/><rect x="785.6" y="539.6" width="2.7" height="11.7" fill="#584848"/><rect x="784.2" y="543.8" width="5.4" height="5.3" fill="#1e6e06" stroke="#4a3030" stroke-width="1.3"/><rect x="794.9" y="541.7" width="2.7" height="37.9" fill="#584848"/><rect x="793.5" y="544.9" width="5.4" height="20.2" fill="#ee0a0a" stroke="#4a3030" stroke-width="1.3"/><rect x="804.1" y="555.5" width="2.7" height="39.4" fill="#584848"/><rect x="802.8" y="565.1" width="5.4" height="23.4" fill="#ee0a0a" stroke="#4a3030" stroke-width="1.3"/><rect x="813.4" y="584.3" width="2.7" height="30.8" fill="#584848"/><rect x="812.0" y="588.9" width="5.4" height="25.1" fill="#ee0a0a" stroke="#4a3030" stroke-width="1.3"/><rect x="822.6" y="594.9" width="2.7" height="36.2" fill="#584848"/><rect x="821.2" y="602.3" width="5.4" height="10.7" fill="#1e6e06" stroke="#4a3030" stroke-width="1.3"/><rect x="831.9" y="557.7" width="2.7" height="47.8" fill="#584848"/><rect x="830.5" y="566.8" width="5.4" height="36.2" fill="#1e6e06" stroke="#4a3030" stroke-width="1.3"/><rect x="841.1" y="555.5" width="2.7" height="16.0" fill="#584848"/><rect x="839.8" y="563.0" width="5.4" height="4.2" fill="#1e6e06" stroke="#4a3030" stroke-width="1.3"/><rect x="850.4" y="551.3" width="2.7" height="15.9" fill="#584848"/><rect x="849.0" y="553.4" width="5.4" height="10.0" fill="#1e6e06" stroke="#4a3030" stroke-width="1.3"/><rect x="859.6" y="544.9" width="2.7" height="26.6" fill="#584848"/><rect x="858.2" y="553.4" width="5.4" height="4.9" fill="#ee0a0a" stroke="#4a3030" stroke-width="1.3"/><rect x="868.9" y="557.7" width="2.7" height="17.0" fill="#584848"/><rect x="867.5" y="559.8" width="5.4" height="12.1" fill="#ee0a0a" stroke="#4a3030" stroke-width="1.3"/><rect x="878.1" y="550.2" width="2.7" height="23.4" fill="#584848"/><rect x="876.8" y="553.4" width="5.4" height="15.5" fill="#1e6e06" stroke="#4a3030" stroke-width="1.3"/><rect x="887.4" y="551.9" width="2.7" height="31.3" fill="#584848"/><rect x="886.0" y="554.5" width="5.4" height="7.4" fill="#ee0a0a" stroke="#4a3030" stroke-width="1.3"/><rect x="896.6" y="555.5" width="2.7" height="16.0" fill="#584848"/><rect x="894.2" y="561.0" width="7.6" height="2.2" fill="#4a3535"/><rect x="905.9" y="548.1" width="2.7" height="25.9" fill="#584848"/><rect x="904.5" y="549.1" width="5.4" height="13.9" fill="#1e6e06" stroke="#4a3030" stroke-width="1.3"/><rect x="915.1" y="528.9" width="2.7" height="27.3" fill="#584848"/><rect x="913.8" y="530.0" width="5.4" height="18.1" fill="#1e6e06" stroke="#4a3030" stroke-width="1.3"/><rect x="924.4" y="478.9" width="2.7" height="56.0" fill="#584848"/><rect x="923.0" y="491.1" width="5.4" height="38.9" fill="#1e6e06" stroke="#4a3030" stroke-width="1.3"/><rect x="933.6" y="423.6" width="2.7" height="68.1" fill="#584848"/><rect x="932.2" y="424.3" width="5.4" height="66.3" fill="#1e6e06" stroke="#4a3030" stroke-width="1.3"/><rect x="942.9" y="424.3" width="2.7" height="25.9" fill="#584848"/><rect x="941.5" y="430.0" width="5.4" height="10.6" fill="#ee0a0a" stroke="#4a3030" stroke-width="1.3"/><rect x="952.1" y="437.4" width="2.7" height="34.1" fill="#584848"/><rect x="950.8" y="440.6" width="5.4" height="23.4" fill="#ee0a0a" stroke="#4a3030" stroke-width="1.3"/><rect x="961.4" y="410.9" width="2.7" height="80.2" fill="#584848"/><rect x="960.0" y="428.9" width="5.4" height="36.2" fill="#1e6e06" stroke="#4a3030" stroke-width="1.3"/><rect x="970.6" y="411.9" width="2.7" height="31.9" fill="#584848"/><rect x="969.2" y="415.7" width="5.4" height="9.4" fill="#1e6e06" stroke="#4a3030" stroke-width="1.3"/><rect x="979.9" y="369.1" width="2.7" height="48.7" fill="#584848"/><rect x="978.5" y="385.3" width="5.4" height="29.8" fill="#1e6e06" stroke="#4a3030" stroke-width="1.3"/><rect x="989.1" y="377.2" width="2.7" height="16.2" fill="#584848"/><rect x="987.8" y="377.9" width="5.4" height="9.4" fill="#1e6e06" stroke="#4a3030" stroke-width="1.3"/><rect x="998.4" y="377.9" width="2.7" height="15.5" fill="#584848"/><rect x="997.0" y="378.5" width="5.4" height="8.2" fill="#ee0a0a" stroke="#4a3030" stroke-width="1.3"/><rect x="1007.6" y="379.9" width="2.7" height="12.2" fill="#584848"/><rect x="1006.2" y="381.2" width="5.4" height="6.1" fill="#1e6e06" stroke="#4a3030" stroke-width="1.3"/><rect x="1016.9" y="377.9" width="2.7" height="20.3" fill="#584848"/><rect x="1015.5" y="381.9" width="5.4" height="8.8" fill="#ee0a0a" stroke="#4a3030" stroke-width="1.3"/><rect x="1026.1" y="381.2" width="2.7" height="23.1" fill="#584848"/><rect x="1024.8" y="384.0" width="5.4" height="6.0" fill="#1e6e06" stroke="#4a3030" stroke-width="1.3"/><rect x="1035.4" y="376.5" width="2.7" height="12.2" fill="#584848"/><rect x="1034.0" y="377.2" width="5.4" height="6.1" fill="#1e6e06" stroke="#4a3030" stroke-width="1.3"/><rect x="1044.6" y="351.5" width="2.7" height="26.4" fill="#584848"/><rect x="1043.2" y="359.6" width="5.4" height="16.9" fill="#1e6e06" stroke="#4a3030" stroke-width="1.3"/><rect x="1053.9" y="346.0" width="2.7" height="14.9" fill="#584848"/><rect x="1052.5" y="348.1" width="5.4" height="11.5" fill="#1e6e06" stroke="#4a3030" stroke-width="1.3"/><rect x="1063.1" y="321.7" width="2.7" height="28.4" fill="#584848"/><rect x="1061.8" y="322.3" width="5.4" height="25.1" fill="#1e6e06" stroke="#4a3030" stroke-width="1.3"/><rect x="1072.4" y="321.7" width="2.7" height="65.0" fill="#584848"/><rect x="1071.0" y="322.3" width="5.4" height="42.7" fill="#ee0a0a" stroke="#4a3030" stroke-width="1.3"/><rect x="1081.6" y="362.3" width="2.7" height="23.7" fill="#584848"/><rect x="1079.2" y="366.3" width="7.6" height="2.2" fill="#4a3535"/><rect x="1090.9" y="367.7" width="2.7" height="1.4" fill="#584848"/><rect x="1088.4" y="367.3" width="7.6" height="2.2" fill="#4a3535"/><rect x="1100.1" y="331.1" width="2.7" height="42.7" fill="#584848"/><rect x="1098.8" y="336.3" width="5.4" height="34.1" fill="#1e6e06" stroke="#4a3030" stroke-width="1.3"/><rect x="1109.4" y="335.9" width="2.7" height="29.8" fill="#584848"/><rect x="1108.0" y="336.3" width="5.4" height="11.8" fill="#ee0a0a" stroke="#4a3030" stroke-width="1.3"/><rect x="1118.6" y="338.6" width="2.7" height="18.9" fill="#584848"/><rect x="1117.2" y="350.8" width="5.4" height="5.4" fill="#ee0a0a" stroke="#4a3030" stroke-width="1.3"/><rect x="1127.9" y="355.5" width="2.7" height="11.5" fill="#584848"/><rect x="1125.4" y="356.4" width="7.6" height="2.2" fill="#4a3535"/><rect x="1137.1" y="340.6" width="2.7" height="25.8" fill="#584848"/><rect x="1135.8" y="342.0" width="5.4" height="16.9" fill="#1e6e06" stroke="#4a3030" stroke-width="1.3"/><rect x="1146.4" y="338.6" width="2.7" height="11.5" fill="#584848"/><rect x="1145.0" y="339.3" width="5.4" height="3.4" fill="#1e6e06" stroke="#4a3030" stroke-width="1.3"/><rect x="1155.6" y="335.5" width="2.7" height="45.7" fill="#584848"/><rect x="1154.2" y="338.6" width="5.4" height="39.9" fill="#ee0a0a" stroke="#4a3030" stroke-width="1.3"/><rect x="1164.9" y="376.5" width="2.7" height="35.9" fill="#584848"/><rect x="1163.5" y="378.5" width="5.4" height="6.1" fill="#ee0a0a" stroke="#4a3030" stroke-width="1.3"/><rect x="1174.1" y="369.1" width="2.7" height="27.7" fill="#584848"/><rect x="1172.8" y="377.5" width="5.4" height="9.2" fill="#1e6e06" stroke="#4a3030" stroke-width="1.3"/><rect x="1183.4" y="375.2" width="2.7" height="34.5" fill="#584848"/><rect x="1182.0" y="376.5" width="5.4" height="25.1" fill="#ee0a0a" stroke="#4a3030" stroke-width="1.3"/><rect x="1192.6" y="381.2" width="2.7" height="23.1" fill="#584848"/><rect x="1191.2" y="383.3" width="5.4" height="19.6" fill="#1e6e06" stroke="#4a3030" stroke-width="1.3"/><rect x="1201.9" y="378.5" width="2.7" height="15.6" fill="#584848"/><rect x="1200.5" y="383.3" width="5.4" height="3.4" fill="#ee0a0a" stroke="#4a3030" stroke-width="1.3"/><rect x="1211.1" y="386.0" width="2.7" height="8.8" fill="#584848"/><rect x="1209.8" y="387.3" width="5.4" height="6.1" fill="#ee0a0a" stroke="#4a3030" stroke-width="1.3"/><rect x="1220.4" y="393.2" width="2.7" height="11.7" fill="#584848"/><rect x="1217.9" y="392.5" width="7.6" height="2.2" fill="#4a3535"/><rect x="1229.6" y="395.2" width="2.7" height="2.0" fill="#584848"/><rect x="1227.2" y="395.0" width="7.6" height="2.2" fill="#4a3535"/><rect x="30" y="426.1" width="1301" height="4.3" fill="#5a88f2" opacity="0.85"/><line x1="1241" y1="396.5" x2="1331" y2="396.5" stroke="#8a8a8a" stroke-width="2.2" stroke-dasharray="2.2 8.1"/><line x1="1241" y1="442.5" x2="1331" y2="442.5" stroke="#6f8fc0" stroke-width="2.2" stroke-dasharray="2.2 8.1"/><line x1="1240.8" y1="396.3" x2="1306" y2="306.5" stroke="#3062a0" stroke-width="10"/><polygon points="1323.3,281.3 1290.2,296.6 1319.6,318.8" fill="#3062a0"/><polygon points="1345,260 1514,260 1514,300 1345,300 1330,280" fill="#45a208"/><polygon points="1345,300 1514,300 1514,340.5 1345,340.5 1330,320" fill="#45a208"/><text x="1354" y="288.7" font-size="28.6" fill="#fff">4400.00</text><text x="1354" y="329.7" font-size="28.6" fill="#fff">4380.00</text><path d="M1346,377 L1509,377 Q1512.5,377 1512.5,380.5 L1512.5,416 L1346,416 L1331,396.5 Z" fill="#333"/><text x="1354" y="404.6" font-size="28.6" fill="#fff">4340.82</text><path d="M1346,408.3 L1513.5,408.3 L1513.5,443.6 Q1513.5,447.6 1509.5,447.6 L1346,447.6 L1331,428.2 Z" fill="#1b5cf0"/><text x="1354" y="436" font-size="28.6" fill="#fff">4325.00</text><text x="1354" y="500" font-size="28.6" fill="#ff2a2a">4293.00</text><text x="1354" y="553.8" font-size="28.6" fill="#ff2a2a">4265.00</text><rect x="4" y="734.3" width="1516" height="2" fill="#f5f6f8"/><rect x="37.5" y="768.5" width="32" height="12" fill="#5578e0"/><text x="86.5" y="783.5" font-size="28" textLength="43.4" lengthAdjust="spacingAndGlyphs" fill="#85858a">RSI</text><rect x="162" y="768.5" width="33" height="12" fill="#ff0000"/><text x="212" y="783.5" font-size="28" textLength="53.6" lengthAdjust="spacingAndGlyphs" fill="#85858a">9MA</text><line x1="30.5" y1="840.2" x2="1333" y2="840.2" stroke="#b8b8bc" stroke-width="2.6" stroke-dasharray="1.7 8.6"/><line x1="30.5" y1="884.4" x2="1333" y2="884.4" stroke="#b8b8bc" stroke-width="2.6" stroke-dasharray="1.7 8.6"/><line x1="30.5" y1="929.4" x2="1333" y2="929.4" stroke="#b8b8bc" stroke-width="2.6" stroke-dasharray="1.7 8.6"/><line x1="1233" y1="887" x2="1333" y2="887" stroke="#8aa3ee" stroke-width="3" stroke-dasharray="1.9 8.4"/><polyline points="38.6,864.3 46.0,867.4 55.4,874.8 64.9,856.9 74.3,863.2 84.8,847.1 93.2,847.5 102.7,839.1 112.1,839.5 121.2,828.2 131.0,842.2 139.4,835.9 147.8,833.4 157.7,848.5 166.7,841.6 176.2,841.2 185.6,829.6 194.7,826.5 203.5,821.2 212.9,822.3 222.4,822.7 231.8,807.6 241.3,828.6 249.7,823.3 258.1,821.2 268.6,833.8 278.0,831.7 287.5,866.4 296.9,886.3 306.4,873.7 315.8,865.3 325.3,858.0 334.7,852.7 343.4,858.0 351.8,851.3 361.2,863.2 370.7,859.0 380.1,861.8 389.6,866.4 400.1,880.0 409.5,880.0 416.9,880.0 426.3,874.8 435.8,888.4 445.2,880.0 453.6,882.1 463.1,892.0 472.5,897.9 482.0,916.8 491.4,911.5 500.9,894.7 509.3,893.7 518.7,914.7 528.2,932.5 537.6,922.0 547.1,924.1 555.5,926.2 564.9,932.5 574.4,937.8 583.8,939.9 593.3,918.9 602.7,906.3 611.1,910.5 620.6,916.8 630.0,909.4 639.5,896.8 647.9,893.7 651.3,893.7 658.6,894.7 668.1,887.4 676.5,891.6 685.9,897.9 695.4,900.0 704.8,909.4 712.2,891.6 721.6,880.7 731.1,880.7 739.5,878.6 750.0,886.3 759.4,886.3 768.9,879.0 778.3,880.0 787.8,877.9 796.2,887.4 805.6,897.9 815.1,906.7 824.5,900.0 832.9,884.2 842.4,883.2 851.8,878.6 861.3,880.7 870.7,887.4 879.1,878.6 888.6,883.2 898.0,883.2 907.5,875.8 916.9,866.4 926.4,849.6 934.8,833.8 944.2,843.3 953.7,854.8 955.0,853.8 963.4,845.0 972.8,842.2 982.3,834.5 991.7,833.8 1000.1,839.5 1009.6,838.0 1019.0,844.3 1028.5,840.8 1037.9,838.0 1046.3,833.8 1055.8,830.7 1064.6,824.4 1069.4,837.0 1073.6,853.8 1083.1,854.8 1092.5,854.8 1103.0,844.3 1111.4,852.7 1120.9,856.9 1129.3,859.0 1138.7,852.7 1147.1,851.3 1152.4,862.2 1157.6,874.8 1166.0,879.0 1175.5,875.2 1184.9,888.4 1194.4,880.0 1203.8,880.7 1213.3,885.3 1222.7,885.7 1232.2,886.3" fill="none" stroke="#6685e6" stroke-width="1.35"/><polyline points="38.6,867.4 41.6,867.5 44.6,867.6 47.6,867.7 50.6,867.8 53.6,867.8 56.6,867.6 59.6,867.1 62.6,866.4 65.6,865.6 68.6,864.8 71.6,864.0 74.6,863.3 77.6,862.6 80.6,862.0 83.6,861.4 86.6,860.8 89.6,860.2 92.6,859.6 95.6,858.9 98.6,858.3 101.6,857.6 104.6,856.9 107.6,856.2 110.6,855.4 113.6,854.5 116.6,853.4 119.6,852.3 122.6,851.2 125.6,850.1 128.6,849.1 131.6,848.0 134.6,847.0 137.6,846.0 140.6,845.0 143.6,844.0 146.6,843.1 149.6,842.3 152.6,841.7 155.6,841.1 158.6,840.6 161.6,840.1 164.6,839.6 167.6,839.2 170.6,838.8 173.6,838.5 176.6,838.1 179.6,837.8 182.6,837.4 185.6,837.1 188.6,836.7 191.6,836.3 194.6,835.9 197.6,835.4 200.6,835.0 203.6,834.5 206.6,834.0 209.6,833.4 212.6,832.8 215.6,832.2 218.6,831.5 221.6,830.9 224.6,830.2 227.6,829.5 230.6,828.8 233.6,828.2 236.6,827.5 239.6,826.8 242.6,826.2 245.6,825.5 248.6,824.9 251.6,824.3 254.6,823.7 257.6,823.3 260.6,823.0 263.6,822.9 266.6,822.8 269.6,823.0 272.6,823.2 275.6,823.6 278.6,824.4 281.6,825.5 284.6,827.1 287.6,828.9 290.6,830.8 293.6,832.9 296.6,834.9 299.6,837.0 302.6,839.1 305.6,841.1 308.6,843.2 311.6,845.2 314.6,846.9 317.6,848.5 320.6,849.8 323.6,851.0 326.6,852.3 329.6,853.5 332.6,854.8 335.6,856.0 338.6,857.2 341.6,858.3 344.6,859.4 347.6,860.3 350.6,861.2 353.6,862.0 356.6,862.6 359.6,863.1 362.6,863.2 365.6,863.0 368.6,862.6 371.6,862.1 374.6,861.6 377.6,861.1 380.6,860.7 383.6,860.4 386.6,860.2 389.6,860.2 392.6,860.4 395.6,860.9 398.6,861.5 401.6,862.3 404.6,863.1 407.6,864.0 410.6,865.0 413.6,865.9 416.6,866.6 419.6,867.3 422.6,868.0 425.6,868.7 428.6,869.6 431.6,870.6 434.6,871.6 437.6,872.7 440.6,873.6 443.6,874.4 446.6,875.2 449.6,875.9 452.6,876.7 455.6,877.7 458.6,878.7 461.6,879.8 464.6,881.1 467.6,882.4 470.6,883.8 473.6,885.3 476.6,886.7 479.6,887.9 482.6,889.1 485.6,890.2 488.6,891.1 491.6,891.9 494.6,892.5 497.6,893.0 500.6,893.5 503.6,894.2 506.6,895.0 509.6,895.9 512.6,897.0 515.6,898.3 518.6,899.8 521.6,901.4 524.6,903.1 527.6,904.6 530.6,906.1 533.6,907.4 536.6,908.7 539.6,909.9 542.6,911.0 545.6,912.1 548.6,913.1 551.6,914.0 554.6,914.8 557.6,915.5 560.6,916.2 563.6,916.9 566.6,917.8 569.6,919.0 572.6,920.3 575.6,921.7 578.6,923.2 581.6,924.7 584.6,926.1 587.6,927.1 590.6,927.7 593.6,927.9 596.6,927.7 599.6,927.3 602.6,926.8 605.6,926.2 608.6,925.7 611.6,925.2 614.6,924.9 617.6,924.6 620.6,924.3 623.6,923.9 626.6,923.3 629.6,922.4 632.6,921.5 635.6,920.5 638.6,919.6 641.6,918.6 644.6,917.4 647.6,915.8 650.6,914.0 653.6,912.1 656.6,910.2 659.6,908.3 662.6,906.6 665.6,904.9 668.6,903.3 671.6,901.9 674.6,901.0 677.6,900.3 680.6,899.8 683.6,899.4 686.6,899.0 689.6,898.7 692.6,898.4 695.6,898.2 698.6,897.9 701.6,897.6 704.6,897.1 707.6,896.5 710.6,895.8 713.6,895.1 716.6,894.3 719.6,893.6 722.6,893.0 725.6,892.5 728.6,892.0 731.6,891.5 734.6,891.0 737.6,890.6 740.6,890.4 743.6,890.1 746.6,889.9 749.6,889.7 752.6,889.4 755.6,889.0 758.6,888.5 761.6,887.8 764.6,887.1 767.6,886.5 770.6,885.8 773.6,885.0 776.6,884.3 779.6,883.6 782.6,882.9 785.6,882.3 788.6,881.9 791.6,881.8 794.6,881.9 797.6,882.1 800.6,882.6 803.6,883.3 806.6,884.2 809.6,885.1 812.6,885.9 815.6,886.6 818.6,887.2 821.6,887.7 824.6,888.0 827.6,888.3 830.6,888.4 833.6,888.4 836.6,888.4 839.6,888.4 842.6,888.4 845.6,888.4 848.6,888.4 851.6,888.4 854.6,888.4 857.6,888.5 860.6,888.6 863.6,888.8 866.6,889.0 869.6,889.1 872.6,889.1 875.6,888.9 878.6,888.5 881.6,888.1 884.6,887.5 887.6,886.9 890.6,886.2 893.6,885.4 896.6,884.5 899.6,883.7 902.6,882.9 905.6,882.1 908.6,881.3 911.6,880.6 914.6,879.8 917.6,878.8 920.6,877.6 923.6,876.3 926.6,874.9 929.6,873.5 932.6,872.1 935.6,870.7 938.6,869.3 941.6,867.9 944.6,866.6 947.6,865.4 950.6,864.3 953.6,863.3 956.6,862.1 959.6,860.8 962.6,859.4 965.6,857.8 968.6,856.2 971.6,854.6 974.6,852.9 977.6,851.2 980.6,849.6 983.6,848.1 986.6,846.6 989.6,845.3 992.6,844.1 995.6,843.0 998.6,842.2 1001.6,841.6 1004.6,841.2 1007.6,841.1 1010.6,841.2 1013.6,841.3 1016.6,841.3 1019.6,841.2 1022.6,841.0 1025.6,840.6 1028.6,840.3 1031.6,839.9 1034.6,839.5 1037.6,839.0 1040.6,838.5 1043.6,838.0 1046.6,837.5 1049.6,837.1 1052.6,836.8 1055.6,836.6 1058.6,836.4 1061.6,836.3 1064.6,836.4 1067.6,836.9 1070.6,837.5 1073.6,838.2 1076.6,838.9 1079.6,839.5 1082.6,840.1 1085.6,840.6 1088.6,841.0 1091.6,841.3 1094.6,841.6 1097.6,841.9 1100.6,842.2 1103.6,842.6 1106.6,843.1 1109.6,843.7 1112.6,844.2 1115.6,844.8 1118.6,845.5 1121.6,846.2 1124.6,847.0 1127.6,847.8 1130.6,848.6 1133.6,849.4 1136.6,850.1 1139.6,850.8 1142.6,851.5 1145.6,852.2 1148.6,852.9 1151.6,853.7 1154.6,854.5 1157.6,855.4 1160.6,856.2 1163.6,857.1 1166.6,858.0 1169.6,858.8 1172.6,859.8 1175.6,860.9 1178.6,862.2 1181.6,863.7 1184.6,865.1 1187.6,866.4 1190.6,867.5 1193.6,868.6 1196.6,869.6 1199.6,870.6 1202.6,871.6 1205.6,872.6 1208.6,873.6 1211.6,874.6 1214.6,875.6 1217.6,876.6 1220.6,877.6 1223.6,878.6 1226.6,879.7 1229.6,880.6 1231.1,881.5" fill="none" stroke="#ff2626" stroke-width="2"/><text x="1355" y="847.8" font-size="28.3" fill="#808085">70</text><text x="1355" y="894.2" font-size="28.3" fill="#808085">50</text><text x="1355" y="938.2" font-size="28.3" fill="#808085">30</text><path d="M30.5,972 L30.5,957 L1331,957 L1331,972" fill="none" stroke="#b0b0b4" stroke-width="4.5"/><text x="232" y="1000.2" font-size="28.4" fill="#808085" text-anchor="middle">Oct 17</text><text x="667" y="1000.2" font-size="28.4" fill="#808085" text-anchor="middle">Oct 20</text><text x="1101" y="1000.2" font-size="28.4" fill="#808085" text-anchor="middle">Oct 21</text><text x="1278" y="1000.2" font-size="28.4" fill="#808085" text-anchor="middle">Oct 26</text></svg>
</body></html>
